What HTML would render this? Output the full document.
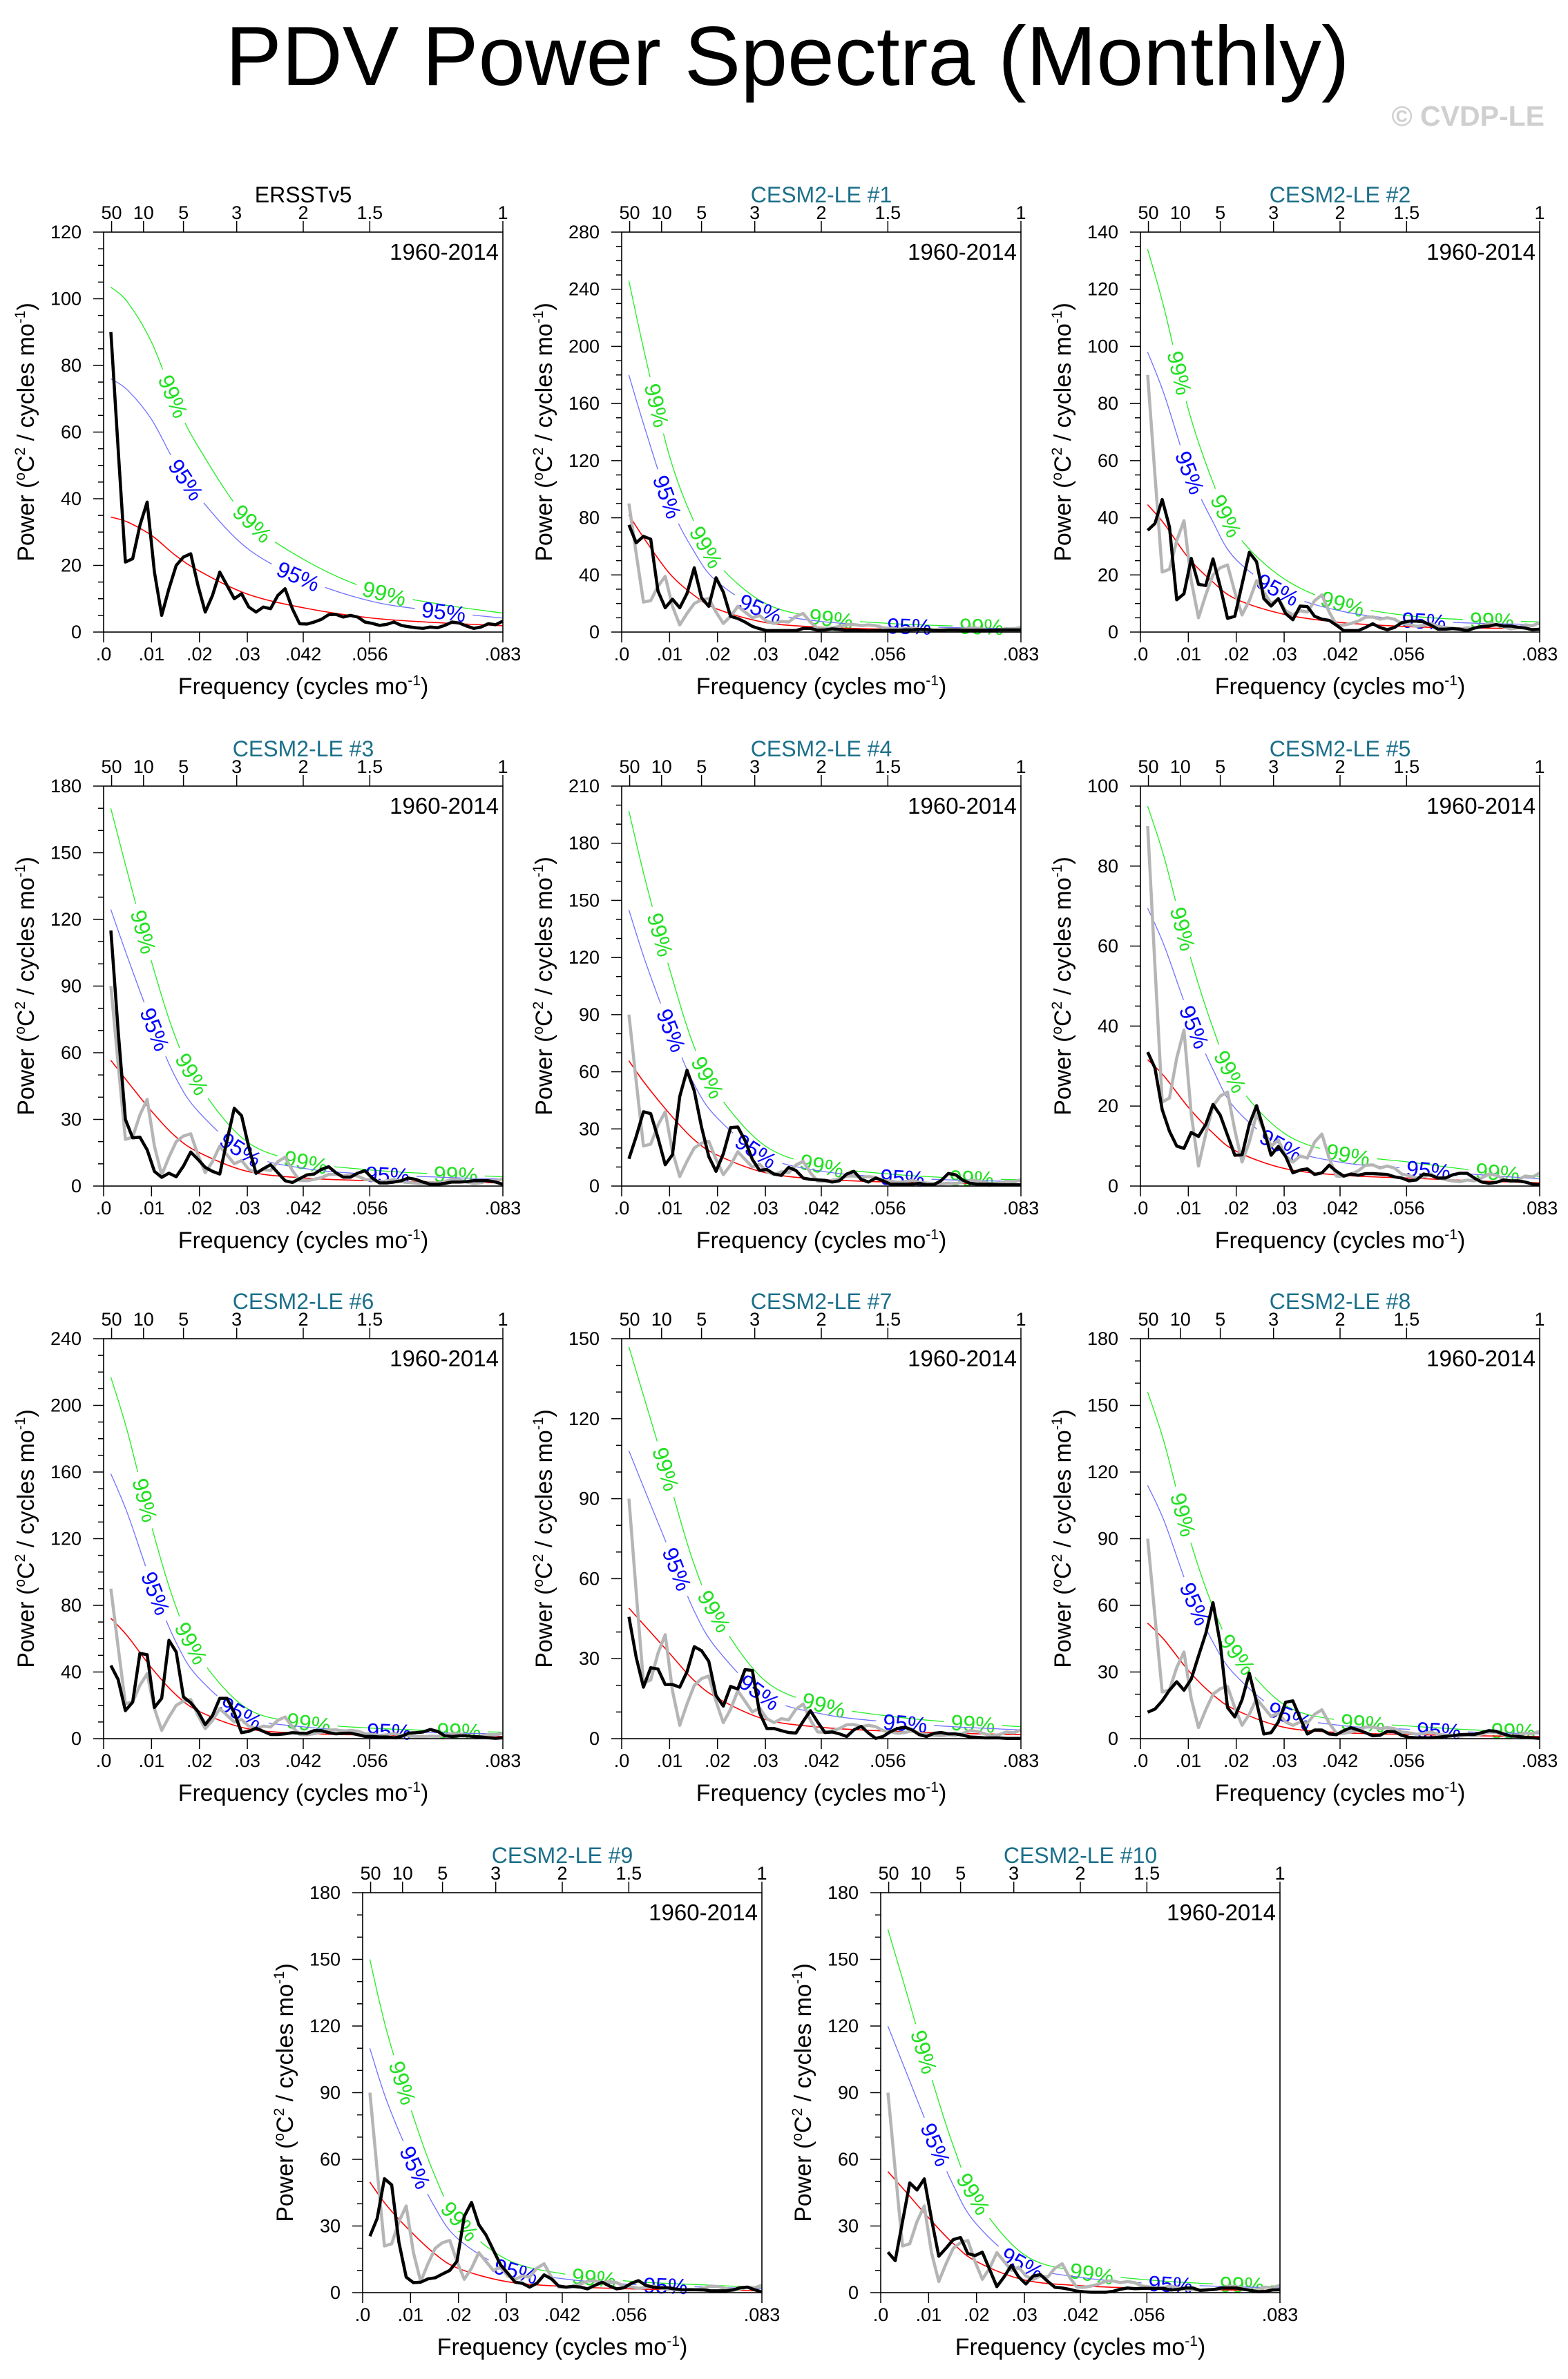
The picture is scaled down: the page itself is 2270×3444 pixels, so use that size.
<!DOCTYPE html>
<html><head><meta charset="utf-8"><title>PDV Power Spectra (Monthly)</title>
<style>
html,body{margin:0;padding:0;background:#fff;}
svg{display:block;font-family:"Liberation Sans",Arial,sans-serif;}
</style></head>
<body>
<svg id="fig" xmlns="http://www.w3.org/2000/svg" width="2270" height="3444" viewBox="0 0 2270 3444">
<rect x="0" y="0" width="2270" height="3444" fill="#fff"/>
<text x="1140" y="123" font-size="122" text-anchor="middle" fill="#000">PDV Power Spectra (Monthly)</text>
<text x="2236" y="182" font-size="41" font-weight="bold" text-anchor="end" fill="#cfcfcf">© CVDP-LE</text>
</svg>
<script>
// ---------- data ----------
const nMonths = 660;
const sigFreqs = [0.0015,0.005,0.01,0.015,0.02,0.03,0.042,0.056,0.07,0.0833];
const periodTicks = [50,10,5,3,2,1.5,1];
const periodLabels = ['50','10','5','3','2','1.5','1'];
const freqTicks = [0,0.01,0.02,0.03,1/24,1/18,1/12];
const freqLabels = ['.0','.01','.02','.03','.042','.056','.083'];

const ersstPower = [90,55,21,22,32,39,18,5,13,20,22.5,23.5,14,6,11,18,14,10,11.5,7.5,6,7.5,7,11,13,7,2.5,2.4,3,3.8,5.2,5.3,4.5,5,4.5,3,2.6,2,2.3,3,2,1.6,1.3,1.1,1.5,1.3,2,3,2.7,1.8,1.1,1.5,2.5,2.2,3.3];
const ersstRed = [34.5,33,29,23,18.3,11.4,7.2,4.2,2.8,1.9];
const ersst95 = [76,72.6,63.8,50.6,40.3,25.1,15.8,9.2,6.2,4.2];
const ersst99 = [103.5,99,87,69,55,34,21.6,12.6,8.4,5.7];

const le1Power = [75,62.5,67,65,28.7,17,23,17,27,45,24,18,38,28,11,9.5,7,4,2.3,1,1,1,1,1,2.5,2.5,1.3,1.5,2.2,1.8,1.2,1.3,1,0.8,1,1,1.2,1.2,1.5,1.5,1.8,1.8,1.3,1.3,1.5,1.5,1.3,1.3,1.3,1.3,1.3,1.5,1.5,1.5,1.5];
const le1Red = [82,64,41,26,16,6.7,3.3,2,1.4,1.0];
const le1Sig95 = [180,141,90,57,35,14.7,7.3,4.4,3.1,2.2];
const le1Sig99 = [246,192,123,78,48,20,10,6,4.2,3];

const le2Power = [35.6,38,46.4,36.8,11.3,13.4,25.8,16.7,16.3,25.6,15.8,4.8,5.5,16.7,27.9,24.6,11.7,9.1,11.7,6.5,4.3,9.1,8.9,5.5,4.5,4.1,2.4,0.5,0.5,0.5,1.6,2.9,1.6,0.8,1.6,3.3,3.8,3.8,3.6,2.4,1,1,1.2,1,0.5,1.4,1.9,2.1,2.6,2.1,2.1,1.7,1.4,0.8,1];
const le2Red = [44.6,37.8,26,17.7,11.5,6.2,3.3,1.9,1.4,1.2];
const le2Sig95 = [98,83,57,39,25.3,13.6,7.3,4.2,3.1,2.6];
const le2Sig99 = [134,113,78,53,34.5,18.6,9.9,5.7,4.2,3.6];

const le3Power = [115,70,30,21.7,22,16.3,6.6,3.9,5.8,4.2,9,15.3,12,8.4,6.6,5.4,20.5,35,31.7,17.5,5.7,7.8,9.6,6,2.4,1.6,3.3,5,5.4,7.5,8.7,6,4,4,5.8,6.9,3.6,1.4,1.4,1.8,2.4,3.6,3,1.8,0.8,0.8,1.2,1.8,1.8,2,2.4,2.4,2.4,1.8,0.8];
const le3Red = [56.6,47,33.7,22.3,15,6.6,3.6,2.4,1.8,1.4];
const le3Sig95 = [124.5,103,74,49,33,14.5,7.9,5.3,4,3.1];
const le3Sig99 = [170,141,101,67,45,19.8,10.8,7.2,5.4,4.2];

const le4Power = [14.3,26,39,38,25.3,11.2,16.5,47,60.8,50,31,15.5,7.7,16.9,30.7,31,23.9,14,8.2,8.7,6.3,5.6,9.8,8.2,4.2,3.5,3.2,3,2.1,2.8,6.3,7.7,3.5,2.1,4.2,2.8,1,1,1,1,1.4,0.7,0.7,2.8,6.6,5.9,3.1,1.4,1,1,1,0.7,0.7,0.7,0.7];
const le4Red = [65.8,53.4,38,24.6,16.2,7,3.5,2.1,1.4,1.1];
const le4Sig95 = [145,117.5,83.6,54,35.6,15.4,7.7,4.6,3.1,2.4];
const le4Sig99 = [197,160,114,74,48.6,21,10.5,6.3,4.2,3.3];

const le5Power = [33.5,29.5,19.1,13.7,10,9.4,13.4,12.4,15.4,20.4,17.7,12.7,7.7,7.8,15.4,20.1,14.1,7.7,9.9,7.4,3.3,4,4.3,2.9,3.3,5.2,3.7,2.5,3,2.7,3.1,3.1,3,2.9,2.3,2,1.3,1.5,3,2.7,2,2,2.8,3.2,3.2,2,1,0.7,0.9,1.5,1.3,1.3,1,0.5,0.3];
const le5Red = [31.6,27.4,19.7,13.4,8.7,4.4,2.7,2,1.3,0.8];
const le5Sig95 = [69.5,60,43.3,29.5,19.1,9.7,5.9,4.4,2.9,1.8];
const le5Sig99 = [95,82,59,40,26,13.2,8.1,6,3.9,2.4];

const le6Power = [43.9,35.5,16.8,21.9,51.2,50.4,18.7,24.2,59,52,25,21.5,16.3,8.4,13.9,24.2,24.2,15.5,3.6,4.4,6.3,4.4,2.5,2.5,2.9,3.6,3.3,3.2,4.8,4.8,3.6,2.9,3.2,3.3,2.4,1.3,1.3,1,1,0.5,1.3,3.3,3.6,4,5.5,4.4,1.7,1.3,1.7,1.7,1.3,1,0.5,0.2,0.5];
const le6Red = [72.3,61.5,42.5,26.6,16.3,6,3.2,2.1,1.6,1.3];
const le6Sig95 = [159,135,93.5,58.5,36,13.2,7,4.6,3.5,2.9];
const le6Sig99 = [217,184,127.5,80,49,18,9.6,6.3,4.8,3.9];

const le7Power = [45.7,30.5,19.3,26.6,26.1,20.3,20.3,19.3,25.1,34.5,33,29,16.2,12.2,19.6,18.6,25.9,25.6,9.7,3.8,3.8,3,2.3,2.1,6.5,10.5,6.2,2.3,2.5,1.8,0.8,3.3,4.6,2.1,0.1,0.8,2.6,3.8,4.3,3.3,1.5,0.8,2,2.3,1.8,1.8,1.3,0.6,0.5,0.3,0.3,0.3,0.1,0.1,0.1];
const le7Red = [49,42,32,22,15.2,7.2,4.2,2.8,2,1.5];
const le7Sig95 = [108,92.4,70.4,48.4,33.4,15.8,9.2,6.2,4.4,3.3];
const le7Sig99 = [147,126,96,66,45.6,21.6,12.6,8.4,6,4.5];

const le8Power = [11.9,13.3,17,21.8,25.6,21.8,26.8,37.2,47.3,61.2,42.6,14,9.8,17.5,29.5,16.4,2.1,2.7,7.5,16.4,17,9.3,2.1,3.9,3.9,2.1,1.8,3.6,4.9,3.9,2.7,1.3,1.5,3.3,3.1,1.5,0.6,0.4,0.4,0.4,0.6,1,1.3,1.8,1.9,1.9,2.7,3.6,3.3,2.1,1.2,1,0.6,0.4,0.1];
const le8Red = [52,44.4,30.7,20,12.8,5.1,2.7,1.9,1.3,1];
const le8Sig95 = [114,97.7,67.5,44,28.2,11.2,5.9,4.2,2.9,2.2];
const le8Sig99 = [156,133,92,60,38.4,15.3,8.1,5.7,3.9,3];

const le9Power = [25.4,33.4,51.3,48.5,22.6,7,4.5,4.7,6.2,6.7,8.4,10,14.2,34.3,40.6,30.6,25.9,19.2,12.5,8.7,4.7,4.2,2.5,4.2,8,6.2,3,2.5,2.8,2.5,1.7,3.3,4.7,3,1.7,2.2,4.2,5.4,3.3,2.5,2.2,2.2,1.7,1.3,1.3,1.3,1.2,0.8,0.8,0.8,1.2,2.2,2.5,1.3,0.3];
const le9Red = [49.8,39.3,27.6,17.6,10.9,5,2.8,1.7,1.2,0.8];
const le9Sig95 = [110,86.5,60.7,38.7,24,11,6.2,3.7,2.6,1.8];
const le9Sig99 = [150,118,83,53,32.7,15,8.4,5.1,3.6,2.4];

const le10Power = [18.2,14.4,31.9,49.4,46.2,51.2,33.1,16.4,20,23.9,24.8,17.6,16.7,18.2,10.5,2.7,7.1,12.3,7.1,3.9,7.5,8.1,5.1,2.4,2.1,1.5,0.7,0.4,0.2,0.2,0.2,0.6,1.5,2.1,1.8,1.9,1.9,1.9,1.9,1.2,1.5,2.1,2.1,1,1.2,1.5,2.1,2.1,2.1,1.5,1,0.4,0.6,1.2,1.3];
const le10Red = [54.5,46,33.7,22.4,14,5.7,3.1,1.9,1.3,1];
const le10Sig95 = [120,101,74,49,30.8,12.5,6.8,4.2,2.9,2.2];
const le10Sig99 = [163.5,138,101,67,42,17,9.3,5.7,3.9,3];

// ---------- layout ----------
const panelDefs = [
 {id:'ersstv5', title:'ERSSTv5', obs:true, L:150, T:336, ymax:120, step:20, minor:5, power:ersstPower, red:ersstRed, s95:ersst95, s99:ersst99},
 {id:'cesm2-le-1', title:'CESM2-LE #1', L:900, T:336, ymax:280, step:40, minor:10, power:le1Power, red:le1Red, s95:le1Sig95, s99:le1Sig99},
 {id:'cesm2-le-2', title:'CESM2-LE #2', L:1651, T:336, ymax:140, step:20, minor:5, power:le2Power, red:le2Red, s95:le2Sig95, s99:le2Sig99},
 {id:'cesm2-le-3', title:'CESM2-LE #3', L:150, T:1138, ymax:180, step:30, minor:10, power:le3Power, red:le3Red, s95:le3Sig95, s99:le3Sig99},
 {id:'cesm2-le-4', title:'CESM2-LE #4', L:900, T:1138, ymax:210, step:30, minor:10, power:le4Power, red:le4Red, s95:le4Sig95, s99:le4Sig99},
 {id:'cesm2-le-5', title:'CESM2-LE #5', L:1651, T:1138, ymax:100, step:20, minor:5, power:le5Power, red:le5Red, s95:le5Sig95, s99:le5Sig99},
 {id:'cesm2-le-6', title:'CESM2-LE #6', L:150, T:1938, ymax:240, step:40, minor:10, power:le6Power, red:le6Red, s95:le6Sig95, s99:le6Sig99},
 {id:'cesm2-le-7', title:'CESM2-LE #7', L:900, T:1938, ymax:150, step:30, minor:10, power:le7Power, red:le7Red, s95:le7Sig95, s99:le7Sig99},
 {id:'cesm2-le-8', title:'CESM2-LE #8', L:1651, T:1938, ymax:180, step:30, minor:10, power:le8Power, red:le8Red, s95:le8Sig95, s99:le8Sig99},
 {id:'cesm2-le-9', title:'CESM2-LE #9', L:525, T:2740, ymax:180, step:30, minor:10, power:le9Power, red:le9Red, s95:le9Sig95, s99:le9Sig99},
 {id:'cesm2-le-10', title:'CESM2-LE #10', L:1275, T:2740, ymax:180, step:30, minor:10, power:le10Power, red:le10Red, s95:le10Sig95, s99:le10Sig99}
];
const W = 578, H = 579, FMAX = 1/12;

const NS = 'http://www.w3.org/2000/svg';
const svg = document.getElementById('fig');
function mk(tag, attrs, parent){
  const e = document.createElementNS(NS, tag);
  for (const k in attrs) e.setAttribute(k, attrs[k]);
  (parent || svg).appendChild(e);
  return e;
}
function catmull(pts){
  let d = 'M' + pts[0][0].toFixed(2) + ',' + pts[0][1].toFixed(2);
  for (let i = 0; i < pts.length - 1; i++){
    const p0 = pts[Math.max(0,i-1)], p1 = pts[i], p2 = pts[i+1], p3 = pts[Math.min(pts.length-1,i+2)];
    const c1x = p1[0] + (p2[0]-p0[0])/6, c1y = p1[1] + (p2[1]-p0[1])/6;
    const c2x = p2[0] - (p3[0]-p1[0])/6, c2y = p2[1] - (p3[1]-p1[1])/6;
    d += ' C' + c1x.toFixed(2)+','+c1y.toFixed(2)+' '+c2x.toFixed(2)+','+c2y.toFixed(2)+' '+p2[0].toFixed(2)+','+p2[1].toFixed(2);
  }
  return d;
}
let maskCount = 0;

panelDefs.forEach(function(p){
  const L = p.L, T = p.T, B = T + H, R = L + W;
  const xs = f => L + f / FMAX * W;
  const ys = v => B - v / p.ymax * H;
  const g = mk('g', {});
  
  

  const tt = mk('text', {x: L + W/2, y: T - 43, 'font-size': 32, 'text-anchor': 'middle', fill: p.obs ? '#000' : '#1b6f8a'}, g);
  tt.textContent = p.title;
  
  

  const pl = mk('text', {x: R - 6, y: T + 40, 'font-size': 33, 'text-anchor': 'end', fill: '#000'}, g);
  pl.textContent = '1960-2014';
  
  

  [[p.s99, '#22ee22', '#22e022', '99%', 'sig-99-curve'], [p.s95, '#7070ff', '#0000ff', '95%', 'sig-95-curve']].forEach(function(c){
    const pts = sigFreqs.map((f,i) => [xs(f), ys(c[0][i])]);
    const d = catmull(pts);
    const tmp = mk('path', {d: d, fill: 'none'}, g);
    const total = tmp.getTotalLength();
    g.removeChild(tmp);
    const mid = 'm' + (maskCount++);
    const mask = mk('mask', {id: mid, maskUnits: 'userSpaceOnUse', x: 0, y: 0, width: 2270, height: 3444}, g);
    mk('rect', {x: 0, y: 0, width: 2270, height: 3444, fill: '#fff'}, mask);
    const labels = [];
    for (let s = 185; s < total - 30; s += 218){
      const a = tmp.getPointAtLength(Math.max(0, s - 3)), b = tmp.getPointAtLength(Math.min(total, s + 3));
      const q = tmp.getPointAtLength(s);
      const ang = Math.atan2(b.y - a.y, b.x - a.x) * 180 / Math.PI;
      mk('rect', {x: q.x - 42, y: q.y - 18, width: 84, height: 36, fill: '#000', transform: 'rotate(' + ang.toFixed(2) + ' ' + q.x.toFixed(2) + ' ' + q.y.toFixed(2) + ')'}, mask);
      labels.push([q.x, q.y, ang]);
    }
    const line = mk('path', {d: d, fill: 'none', stroke: c[1], 'stroke-width': 1.3, mask: 'url(#' + mid + ')'}, g);
    
    
    labels.forEach(function(lb){
      const t = mk('text', {x: lb[0].toFixed(2), y: (lb[1] + 11).toFixed(2), 'font-size': 32, 'text-anchor': 'middle', fill: c[2], transform: 'rotate(' + lb[2].toFixed(2) + ' ' + lb[0].toFixed(2) + ' ' + lb[1].toFixed(2) + ')'}, g);
      t.textContent = c[3];
      
      
    });
  });

  const redPath = mk('path', {d: catmull(sigFreqs.map((f,i) => [xs(f), ys(p.red[i])])), fill: 'none', stroke: '#ff0000', 'stroke-width': 1.6}, g);
  
  

  if (!p.obs){
    const gp = mk('polyline', {points: ersstPower.map((v,i) => xs((i+1)/nMonths).toFixed(2) + ',' + ys(v).toFixed(2)).join(' '), fill: 'none', stroke: '#b5b5b5', 'stroke-width': 4.5, 'stroke-linejoin': 'round'}, g);
    
    
  }
  const bp = mk('polyline', {points: p.power.map((v,i) => xs((i+1)/nMonths).toFixed(2) + ',' + ys(v).toFixed(2)).join(' '), fill: 'none', stroke: '#000', 'stroke-width': 4.5, 'stroke-linejoin': 'round'}, g);
  
  

  const fr = mk('rect', {x: L, y: T, width: W, height: H, fill: 'none', stroke: '#000', 'stroke-width': 1.6}, g);
  
  

  for (let v = 0; v <= p.ymax + 1e-9; v += p.minor){
    const major = Math.abs(v / p.step - Math.round(v / p.step)) < 1e-6;
    mk('line', {x1: L - (major ? 15 : 8), x2: L, y1: ys(v), y2: ys(v), stroke: '#000', 'stroke-width': 1.5}, g);
    if (major){
      const t = mk('text', {x: L - 32, y: ys(v) + 9, 'font-size': 27, 'text-anchor': 'end', fill: '#000'}, g);
      t.textContent = String(v);
      
      
    }
  }
  freqTicks.forEach(function(f, i){
    mk('line', {x1: xs(f), x2: xs(f), y1: B, y2: B + 15, stroke: '#000', 'stroke-width': 1.5}, g);
    const t = mk('text', {x: xs(f), y: B + 41, 'font-size': 27, 'text-anchor': 'middle', fill: '#000'}, g);
    t.textContent = freqLabels[i];
    
    
  });
  periodTicks.forEach(function(yr, i){
    const f = 1 / (12 * yr);
    mk('line', {x1: xs(f), x2: xs(f), y1: T - 16, y2: T, stroke: '#000', 'stroke-width': 1.5}, g);
    const t = mk('text', {x: xs(f), y: T - 19, 'font-size': 27, 'text-anchor': 'middle', fill: '#000'}, g);
    t.textContent = periodLabels[i];
    
    
  });
  const xt = mk('text', {x: L + W/2, y: B + 90, 'font-size': 34, 'text-anchor': 'middle', fill: '#000'}, g);
  xt.innerHTML = 'Frequency (cycles mo<tspan font-size="21" dy="-13">-1</tspan><tspan dy="13">)</tspan>';
  
  
  const yt = mk('text', {transform: 'translate(' + (L - 101) + ',' + (T + H/2) + ') rotate(-90)', 'font-size': 34, 'text-anchor': 'middle', fill: '#000'}, g);
  yt.innerHTML = 'Power (<tspan font-size="21" dy="-13">o</tspan><tspan dy="13">C</tspan><tspan font-size="21" dy="-13">2</tspan><tspan dy="13"> / cycles mo</tspan><tspan font-size="21" dy="-13">-1</tspan><tspan dy="13">)</tspan>';
  
  
});
</script>
</body></html>
